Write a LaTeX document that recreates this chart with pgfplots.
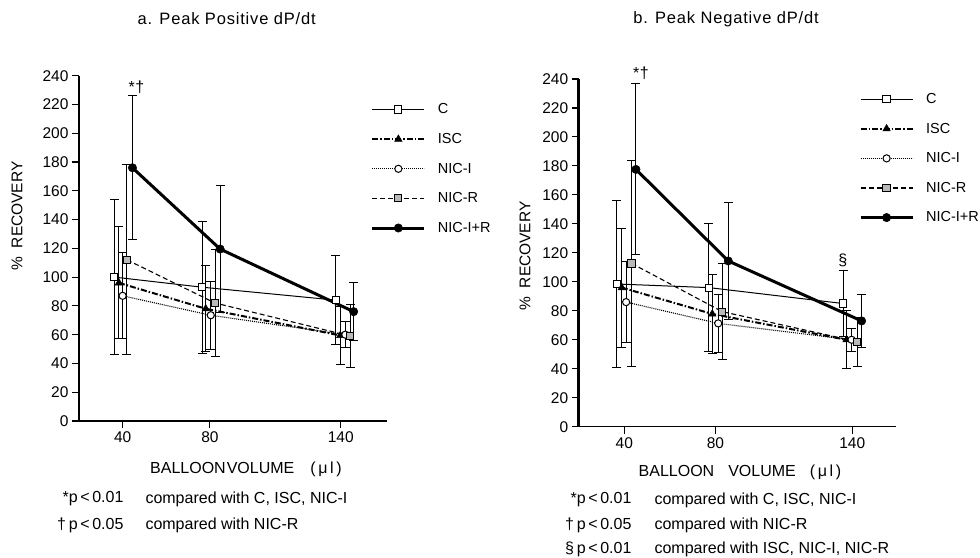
\documentclass[border=0pt]{standalone}
\usepackage{fontspec}
\setmainfont{Liberation Sans}
\usepackage{pgfplots}
\pgfplotsset{compat=1.18}
\newcommand{\fs}[1]{\fontsize{#1bp}{#1bp}\selectfont}
\pgfplotsset{
  common/.style={
    scale only axis,
    axis x line*=bottom, axis y line*=left,
    x axis line style={line width=1.5bp},
    y axis line style={line width=2.5bp},
    xmin=20, ymin=0, ymax=240,
    xtick={40,80,140}, ytick={0,20,...,240},
    tick align=outside, major tick length=7bp,
    tick style={line width=1.1bp, black},
    tick label style={font=\fs{15.5}},
    /pgf/number format/assume math mode=true,
    clip=false,
    legend image code/.code={\draw[mark repeat=2,mark phase=2] plot coordinates {(0bp,0bp)(26bp,0bp)(52bp,0bp)};},
    legend style={draw=none, fill=none, font=\fs{14.5}, row sep=14bp, inner sep=0pt, cells={anchor=west}},
  },
  eb/.style={error bars/.cd, y dir=both, y explicit,
    error bar style={solid, line width=1bp, black},
    error mark options={rotate=90, mark size=4.5bp, solid, line width=1bp, black}},
  sC/.style={black, solid, line width=1bp, mark=square*, mark size=3.6bp, mark options={solid, fill=white, draw=black, line width=1bp}},
  sISC/.style={black, line width=2bp, dash pattern=on 6bp off 2bp on 1.5bp off 2bp, mark=triangle*, mark size=4.3bp, mark options={solid, fill=black, line width=0.5bp}},
  sNI/.style={black, line width=1.1bp, dash pattern=on 1bp off 1bp, mark=*, mark size=3.6bp, mark options={solid, fill=white, draw=black, line width=1bp}},
  sNR/.style={black, line width=1.1bp, dash pattern=on 5bp off 3bp, mark=square*, mark size=3.6bp, mark options={solid, fill=gray!55, draw=black, line width=1bp}},
  sNIR/.style={black, solid, line width=3bp, mark=*, mark size=4.2bp, mark options={solid, fill=black, line width=0.5bp}},
}
\begin{document}
\begin{tikzpicture}[x=1bp,y=1bp]
\useasboundingbox (0,0) rectangle (980,558);
% ---------------- left panel ----------------
\begin{axis}[common, at={(79bp,137bp)}, anchor=origin, width=308bp, height=345.3bp, xmax=161.2,
  legend style={at={(axis description cs:0.947,0.925)}, anchor=north west}]
\addplot[sC, eb] table[x=x,y=y,y error=e] {
x y e
36.2 100 54
76.4 93 46
137.7 84 31
};
\addlegendentry{\hspace{10bp}C}
\addplot[sISC, eb] table[x=x,y=y,y error=e] {
x y e
38.3 96 39
78.1 78 30
139.8 59.5 20
};
\addlegendentry{\hspace{10bp}ISC}
\addplot[sNI, eb] table[x=x,y=y,y error=e] {
x y e
40.0 87 30
80.4 73.5 23.5
142.1 60 9
};
\addlegendentry{\hspace{10bp}NIC-I}
\addplot[sNR, eb] table[x=x,y=y,y error=e] {
x y e
42.0 112 66
82.4 82 37
144.4 59 22
};
\addlegendentry{\hspace{10bp}NIC-R}
\addplot[sNIR, eb] table[x=x,y=y,y error=e] {
x y e
44.5 176 50
84.7 119.5 44
145.9 76 20
};
\addlegendentry{\hspace{10bp}NIC-I+R}
\node[font=\fs{16}] at (axis cs:46.3,232) {*\kern0.5bp†};
\end{axis}
% ---------------- right panel ----------------
\begin{axis}[common, at={(578.7bp,131.3bp)}, anchor=origin, width=317.3bp, height=347.7bp, xmax=159.2,
  legend style={at={(axis description cs:0.883,0.965)}, anchor=north west}]
\addplot[sC, eb] table[x=x,y=y,y error=e] {
x y e
36.7 98.5 57.5
77.1 96 44
136.1 85 22.7
};
\addlegendentry{\hspace{10bp}C}
\addplot[sISC, eb] table[x=x,y=y,y error=e] {
x y e
38.9 96 41
78.6 77.8 27
137.5 60 20
};
\addlegendentry{\hspace{10bp}ISC}
\addplot[sNI, eb] table[x=x,y=y,y error=e] {
x y e
40.8 86 28
81.2 71.3 20
139.7 60 8
};
\addlegendentry{\hspace{10bp}NIC-I}
\addplot[sNR, eb] table[x=x,y=y,y error=e] {
x y e
43.2 112.7 71
83.0 79.4 33
142.2 58.7 17
};
\addlegendentry{\hspace{10bp}NIC-R}
\addplot[sNIR, eb] table[x=x,y=y,y error=e] {
x y e
45.1 177.6 59
85.6 114.4 40.5
144.1 73 18
};
\addlegendentry{\hspace{10bp}NIC-I+R}
\node[font=\fs{16}] at (axis cs:47.3,244) {*\kern0.5bp†};
\node[font=\fs{16}] at (axis cs:135.9,115) {§};
\end{axis}
% ---------------- titles and labels ----------------
\node[font=\fs{16.5}\addfontfeature{LetterSpace=5}] at (226.7,539) {a. Peak Positive dP/dt};
\node[font=\fs{16.5}\addfontfeature{LetterSpace=5}] at (726,539) {b. Peak Negative dP/dt};
\node[font=\fs{15.5}, rotate=90] at (17,342) {\%\ \ RECOVERY};
\node[font=\fs{15.5}, rotate=90] at (525,302) {\%\ \ RECOVERY};
\node[font=\fs{16}] at (246,89) {BALLOON\kern1bp VOLUME\hspace{16bp}(\,μ\,l\,)};
\node[font=\fs{16}] at (740,86) {BALLOON\hspace{14bp}VOLUME\hspace{14bp}(\,μ\,l\,)};
% footnotes left
\node[font=\fs{16}, anchor=east] at (127,59) {*p\,<\,0.01};
\node[font=\fs{16}, anchor=west] at (142,59) {compared with C, ISC, NIC-I};
\node[font=\fs{16}, anchor=east] at (127,33) {†\,p\,<\,0.05};
\node[font=\fs{16}, anchor=west] at (142,33) {compared with NIC-R};
% footnotes right
\node[font=\fs{16}, anchor=east] at (635,58) {*p\,<\,0.01};
\node[font=\fs{16}, anchor=west] at (651,58) {compared with C, ISC, NIC-I};
\node[font=\fs{16}, anchor=east] at (635,33) {†\,p\,<\,0.05};
\node[font=\fs{16}, anchor=west] at (651,33) {compared with NIC-R};
\node[font=\fs{16}, anchor=east] at (635,9) {§\,p\,<\,0.01};
\node[font=\fs{16}, anchor=west] at (651,9) {compared with ISC, NIC-I, NIC-R};
\end{tikzpicture}
\end{document}
